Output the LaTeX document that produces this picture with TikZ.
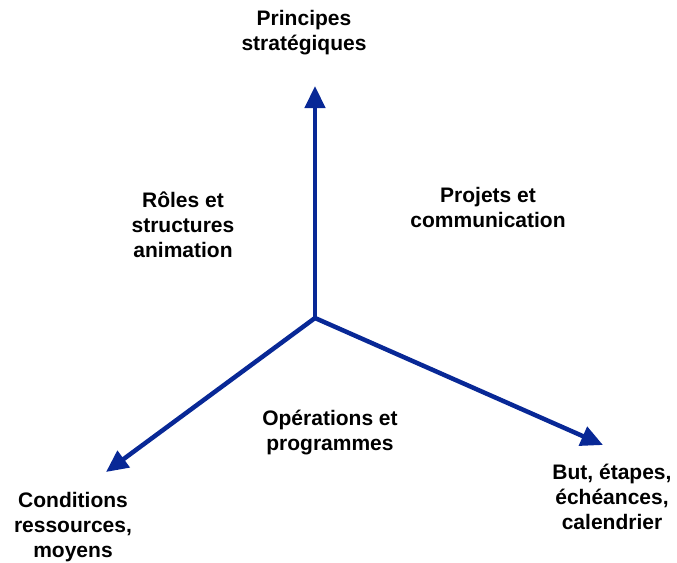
\documentclass[tikz,border=0pt]{standalone}
\usepackage{fontspec}
\setmainfont{Liberation Sans}
\usetikzlibrary{arrows.meta}
\definecolor{axisblue}{RGB}{8,40,150}
\tikzset{
	axe/.style = {draw=axisblue, line width=4.5pt, -{Triangle[length=22pt, width=20pt]}},
	lbl/.style = {align=center, inner sep=0pt, font=\bfseries\fontsize{21}{25}\selectfont}
}
\begin{document}
\begin{tikzpicture}[x=1pt, y=-1pt]
			\useasboundingbox (0,0) rectangle (677,562);
			\coordinate (o) at (315,318);
			\coordinate (top) at (315,86);
			\coordinate (right) at (603,445);
			\coordinate (left) at (106,472);
			\draw [axe] (o) to (top);
			\draw [axe] (o) to (right);
			\draw [axe] (o) to (left);
			\node [lbl] (strat) at (304,33) {Principes\\stratégiques};
			\node [lbl] (roles) at (183,225) {Rôles et\\structures\\animation};
			\node [lbl] (projets) at (488,207) {Projets et\\communication};
			\node [lbl] (ops) at (330,433) {Opérations et\\programmes};
			\node [lbl] (cond) at (73,527) {Conditions\\ressources,\\moyens};
			\node [lbl] (but) at (612,497) {But, étapes,\\échéances,\\calendrier};
	\end{tikzpicture}
\end{document}
